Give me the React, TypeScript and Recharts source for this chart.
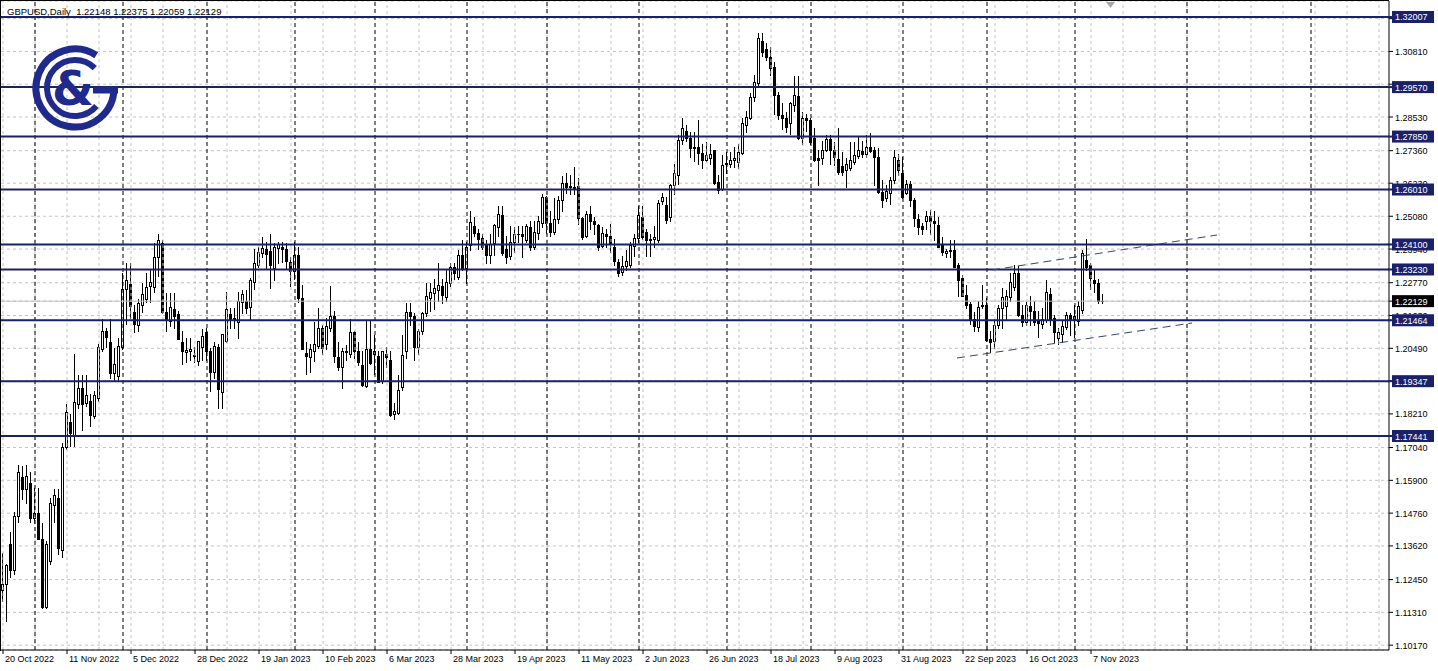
import { ComposedChart, Bar, XAxis, YAxis, CartesianGrid, ReferenceLine } from 'recharts'

// GBPUSD daily candles, 20 Oct 2022 .. 10 Nov 2023
const opens = [
  1.1210, 1.1230, 1.1370, 1.1280, 1.1465, 1.1600, 1.1560, 1.1580, 1.1460, 1.1475,
  1.1385, 1.1150, 1.1310, 1.1505, 1.1528, 1.1347, 1.1705, 1.1794, 1.1745, 1.1855,
  1.1910, 1.1860, 1.1865, 1.1815, 1.1875, 1.2048, 1.2108, 1.2070, 1.1962, 1.1953,
  1.2052, 1.2256, 1.2273, 1.2176, 1.2130, 1.2198, 1.2222, 1.2266, 1.2262, 1.2366,
  1.2415, 1.2175, 1.2145, 1.2185, 1.2168, 1.2072, 1.2035, 1.2040, 1.2022, 1.2006,
  1.2054, 1.2107, 1.2040, 1.1967, 1.2053, 1.1897, 1.2075, 1.2168, 1.2150, 1.2140,
  1.2210, 1.2213, 1.2193, 1.2279, 1.2338, 1.2380, 1.2393, 1.2387, 1.2327, 1.2396,
  1.2400, 1.2393, 1.2348, 1.2317, 1.2372, 1.2223, 1.2032, 1.2020, 1.2040, 1.2056,
  1.2120, 1.2063, 1.2121, 1.2160, 1.2018, 1.1983, 1.2035, 1.2028, 1.2104, 1.2040,
  1.1992, 1.1918, 1.2046, 1.2030, 1.2022, 1.1935, 1.2030, 1.2009, 1.1820, 1.1824,
  1.1914, 1.2040, 1.2175, 1.2160, 1.2055, 1.2110, 1.2170, 1.2225, 1.2240, 1.2250,
  1.2265, 1.2228, 1.2276, 1.2333, 1.2298, 1.2374, 1.2328, 1.2408, 1.2475, 1.2450,
  1.2431, 1.2408, 1.2373, 1.2415, 1.2471, 1.2512, 1.2395, 1.2370, 1.2420, 1.2445,
  1.2448, 1.2427, 1.2470, 1.2400, 1.2450, 1.2485, 1.2575, 1.2484, 1.2455, 1.2500,
  1.2563, 1.2622, 1.2612, 1.2610, 1.2613, 1.2502, 1.2440, 1.2515, 1.2490, 1.2478,
  1.2405, 1.2445, 1.2440, 1.2401, 1.2348, 1.2315, 1.2335, 1.2338, 1.2405, 1.2432,
  1.2505, 1.2455, 1.2425, 1.2430, 1.2425, 1.2560, 1.2547, 1.2505, 1.2617, 1.2650,
  1.2773, 1.2805, 1.2780, 1.2746, 1.2750, 1.2727, 1.2703, 1.2710, 1.2738, 1.2628,
  1.2602, 1.2690, 1.2690, 1.2705, 1.2696, 1.2728, 1.2826, 1.2850, 1.2923, 1.2972,
  1.3117, 1.3088, 1.3062, 1.3026, 1.2930, 1.2860, 1.2850, 1.2833, 1.2896, 1.2926,
  1.2780, 1.2850, 1.2843, 1.2780, 1.2710, 1.2710, 1.2739, 1.2775, 1.2740, 1.2708,
  1.2683, 1.2670, 1.2677, 1.2695, 1.2717, 1.2735, 1.2725, 1.2750, 1.2740, 1.2714,
  1.2594, 1.2570, 1.2590, 1.2634, 1.2705, 1.2658, 1.2590, 1.2620, 1.2564, 1.2500,
  1.2475, 1.2490, 1.2510, 1.2490, 1.2478, 1.2410, 1.2380, 1.2388, 1.2392, 1.2338,
  1.2294, 1.2234, 1.2203, 1.2150, 1.2123, 1.2195, 1.2200, 1.2081, 1.2073, 1.2129,
  1.2190, 1.2195, 1.2227, 1.2263, 1.2311, 1.2165, 1.2140, 1.2195, 1.2180, 1.2145,
  1.2135, 1.2147, 1.2238, 1.2154, 1.2085, 1.2100, 1.2122, 1.2165, 1.2150, 1.2144,
  1.2182, 1.2356, 1.2340, 1.2285, 1.2276, 1.22148,
]

const highs = [
  1.1337, 1.1300, 1.1410, 1.1480, 1.1645, 1.1640, 1.1645, 1.1620, 1.1565, 1.1565,
  1.1440, 1.1380, 1.1530, 1.1560, 1.1560, 1.1720, 1.1855, 1.1820, 1.2028, 1.1955,
  1.1957, 1.1955, 1.1890, 1.1900, 1.2065, 1.2150, 1.2120, 1.2150, 1.2050, 1.2085,
  1.2310, 1.2345, 1.2345, 1.2200, 1.2220, 1.2275, 1.2312, 1.2325, 1.2415, 1.2446,
  1.2425, 1.2240, 1.2240, 1.2242, 1.2180, 1.2110, 1.2085, 1.2085, 1.2055, 1.2075,
  1.2115, 1.2120, 1.2050, 1.2070, 1.2065, 1.2100, 1.2245, 1.2190, 1.2190, 1.2245,
  1.2250, 1.2250, 1.2295, 1.2395, 1.2400, 1.2435, 1.2420, 1.2447, 1.2415, 1.2420,
  1.2420, 1.2415, 1.2365, 1.2420, 1.2400, 1.2270, 1.2070, 1.2065, 1.2140, 1.2190,
  1.2130, 1.2155, 1.2264, 1.2180, 1.2070, 1.2050, 1.2060, 1.2150, 1.2110, 1.2070,
  1.2040, 1.2145, 1.2145, 1.2095, 1.2040, 1.2040, 1.2055, 1.2040, 1.1860, 1.1955,
  1.2095, 1.2205, 1.2205, 1.2170, 1.2115, 1.2175, 1.2275, 1.2275, 1.2290, 1.2345,
  1.2290, 1.2325, 1.2345, 1.2345, 1.2390, 1.2425, 1.2420, 1.2525, 1.2505, 1.2465,
  1.2445, 1.2425, 1.2445, 1.2480, 1.2545, 1.2545, 1.2440, 1.2475, 1.2470, 1.2475,
  1.2475, 1.2480, 1.2490, 1.2490, 1.2510, 1.2585, 1.2580, 1.2525, 1.2570, 1.2580,
  1.2648, 1.2660, 1.2650, 1.2680, 1.2640, 1.2505, 1.2525, 1.2545, 1.2505, 1.2480,
  1.2470, 1.2465, 1.2480, 1.2430, 1.2360, 1.2370, 1.2390, 1.2420, 1.2445, 1.2545,
  1.2545, 1.2465, 1.2445, 1.2475, 1.2565, 1.2590, 1.2575, 1.2620, 1.2690, 1.2790,
  1.2848, 1.2825, 1.2800, 1.2800, 1.2843, 1.2760, 1.2765, 1.2760, 1.2740, 1.2650,
  1.2720, 1.2730, 1.2730, 1.2750, 1.2760, 1.2850, 1.2875, 1.2935, 1.3000, 1.3145,
  1.3145, 1.3110, 1.3095, 1.3045, 1.2940, 1.2900, 1.2870, 1.2905, 1.2995, 1.2995,
  1.2870, 1.2865, 1.2850, 1.2815, 1.2740, 1.2770, 1.2790, 1.2790, 1.2765, 1.2815,
  1.2730, 1.2710, 1.2765, 1.2765, 1.2784, 1.2770, 1.2790, 1.2796, 1.2750, 1.2745,
  1.2635, 1.2615, 1.2645, 1.2738, 1.2725, 1.2715, 1.2635, 1.2630, 1.2570, 1.2515,
  1.2485, 1.2525, 1.2530, 1.2525, 1.2505, 1.2435, 1.2395, 1.2425, 1.2425, 1.2345,
  1.2305, 1.2270, 1.2210, 1.2175, 1.2215, 1.2270, 1.2225, 1.2110, 1.2150, 1.2200,
  1.2260, 1.2250, 1.2310, 1.2337, 1.2335, 1.2200, 1.2210, 1.2230, 1.2215, 1.2180,
  1.2190, 1.2285, 1.2260, 1.2165, 1.2120, 1.2145, 1.2175, 1.2170, 1.2200, 1.2215,
  1.2390, 1.2428, 1.2345, 1.2321, 1.2290, 1.22375,
]

const lows = [
  1.1170, 1.1100, 1.1255, 1.1265, 1.1445, 1.1525, 1.1510, 1.1445, 1.1440, 1.1385,
  1.1145, 1.1145, 1.1300, 1.1445, 1.1335, 1.1325, 1.1700, 1.1710, 1.1710, 1.1840,
  1.1765, 1.1850, 1.1780, 1.1805, 1.1865, 1.2040, 1.2055, 1.1945, 1.1935, 1.1935,
  1.2045, 1.2135, 1.2155, 1.2105, 1.2110, 1.2175, 1.2210, 1.2210, 1.2245, 1.2300,
  1.2170, 1.2110, 1.2125, 1.2120, 1.2080, 1.1995, 1.2000, 1.2010, 1.2000, 1.1990,
  1.2010, 1.2010, 1.1900, 1.1945, 1.1842, 1.1840, 1.2070, 1.2120, 1.2120, 1.2085,
  1.2170, 1.2170, 1.2150, 1.2255, 1.2330, 1.2365, 1.2325, 1.2260, 1.2285, 1.2345,
  1.2350, 1.2325, 1.2265, 1.2290, 1.2210, 1.2045, 1.1960, 1.1965, 1.2005, 1.2050,
  1.2030, 1.2045, 1.2110, 1.2000, 1.1975, 1.1911, 1.2010, 1.2020, 1.2015, 1.1990,
  1.1918, 1.1915, 1.1995, 1.1960, 1.1932, 1.1930, 1.1985, 1.1815, 1.1803, 1.1820,
  1.1905, 1.2015, 1.2130, 1.2010, 1.2030, 1.2100, 1.2160, 1.2180, 1.2185, 1.2215,
  1.2205, 1.2215, 1.2265, 1.2290, 1.2290, 1.2320, 1.2275, 1.2390, 1.2440, 1.2395,
  1.2395, 1.2345, 1.2345, 1.2375, 1.2440, 1.2375, 1.2345, 1.2360, 1.2385, 1.2420,
  1.2365, 1.2420, 1.2390, 1.2395, 1.2430, 1.2470, 1.2450, 1.2440, 1.2445, 1.2485,
  1.2525, 1.2590, 1.2585, 1.2585, 1.2480, 1.2430, 1.2435, 1.2465, 1.2445, 1.2390,
  1.2400, 1.2400, 1.2385, 1.2340, 1.2300, 1.2305, 1.2320, 1.2330, 1.2370, 1.2420,
  1.2430, 1.2370, 1.2370, 1.2400, 1.2420, 1.2550, 1.2485, 1.2490, 1.2585, 1.2620,
  1.2760, 1.2770, 1.2715, 1.2700, 1.2690, 1.2675, 1.2700, 1.2690, 1.2620, 1.2590,
  1.2600, 1.2660, 1.2680, 1.2680, 1.2675, 1.2725, 1.2800, 1.2845, 1.2910, 1.2965,
  1.3065, 1.3050, 1.3000, 1.2865, 1.2845, 1.2810, 1.2800, 1.2795, 1.2875, 1.2775,
  1.2760, 1.2805, 1.2760, 1.2700, 1.2617, 1.2690, 1.2735, 1.2690, 1.2685, 1.2655,
  1.2650, 1.2610, 1.2670, 1.2690, 1.2710, 1.2715, 1.2715, 1.2730, 1.2615, 1.2590,
  1.2540, 1.2560, 1.2550, 1.2625, 1.2650, 1.2570, 1.2585, 1.2545, 1.2475, 1.2445,
  1.2445, 1.2465, 1.2445, 1.2425, 1.2400, 1.2375, 1.2365, 1.2365, 1.2330, 1.2230,
  1.2230, 1.2190, 1.2135, 1.2110, 1.2110, 1.2190, 1.2075, 1.2037, 1.2050, 1.2120,
  1.2120, 1.2150, 1.2215, 1.2250, 1.2160, 1.2125, 1.2130, 1.2130, 1.2130, 1.2090,
  1.2120, 1.2140, 1.2130, 1.2070, 1.2065, 1.2070, 1.2115, 1.2095, 1.2090, 1.2130,
  1.2170, 1.2320, 1.2255, 1.2245, 1.2205, 1.22059,
]

const closes = [
  1.1230, 1.1295, 1.1280, 1.1465, 1.1620, 1.1560, 1.1605, 1.1460, 1.1475, 1.1385,
  1.1150, 1.1370, 1.1510, 1.1538, 1.1355, 1.1705, 1.1828, 1.1756, 1.1862, 1.1910,
  1.1855, 1.1885, 1.1818, 1.1885, 1.2052, 1.2110, 1.2088, 1.1962, 1.1995, 1.2058,
  1.2256, 1.2288, 1.2195, 1.2134, 1.2208, 1.2238, 1.2262, 1.2280, 1.2366, 1.2425,
  1.2175, 1.2150, 1.2192, 1.2160, 1.2080, 1.2040, 1.2044, 1.2045, 1.2024, 1.2075,
  1.2093, 1.2040, 1.1967, 1.2057, 1.1907, 1.2098, 1.2185, 1.2150, 1.2155, 1.2213,
  1.2238, 1.2190, 1.2286, 1.2345, 1.2383, 1.2397, 1.2376, 1.2340, 1.2400, 1.2410,
  1.2395, 1.2352, 1.2317, 1.2372, 1.2223, 1.2046, 1.2022, 1.2045, 1.2063, 1.2118,
  1.2050, 1.2125, 1.2160, 1.2021, 1.1983, 1.2039, 1.2041, 1.2104, 1.2040, 1.2000,
  1.1920, 1.2046, 1.1997, 1.2040, 1.1932, 1.2039, 1.2020, 1.1817, 1.1830, 1.1904,
  1.2025, 1.2175, 1.2160, 1.2055, 1.2110, 1.2170, 1.2230, 1.2245, 1.2260, 1.2270,
  1.2235, 1.2281, 1.2333, 1.2310, 1.2374, 1.2328, 1.2402, 1.2488, 1.2450, 1.2430,
  1.2402, 1.2373, 1.2410, 1.2478, 1.2515, 1.2380, 1.2367, 1.2420, 1.2445, 1.2448,
  1.2440, 1.2475, 1.2400, 1.2455, 1.2490, 1.2575, 1.2484, 1.2455, 1.2500, 1.2565,
  1.2622, 1.2610, 1.2608, 1.2603, 1.2502, 1.2436, 1.2515, 1.2490, 1.2480, 1.2401,
  1.2450, 1.2440, 1.2415, 1.2354, 1.2310, 1.2335, 1.2352, 1.2408, 1.2432, 1.2512,
  1.2435, 1.2425, 1.2430, 1.2435, 1.2554, 1.2575, 1.2495, 1.2617, 1.2658, 1.2773,
  1.2815, 1.2780, 1.2746, 1.2750, 1.2727, 1.2703, 1.2722, 1.2725, 1.2625, 1.2600,
  1.2686, 1.2693, 1.2705, 1.2710, 1.2731, 1.2832, 1.2853, 1.2923, 1.2975, 1.3128,
  1.3079, 1.3061, 1.3023, 1.2930, 1.2860, 1.2850, 1.2820, 1.2901, 1.2930, 1.2780,
  1.2850, 1.2843, 1.2767, 1.2704, 1.2705, 1.2740, 1.2777, 1.2740, 1.2715, 1.2663,
  1.2662, 1.2690, 1.2702, 1.2720, 1.2740, 1.2725, 1.2750, 1.2735, 1.2713, 1.2594,
  1.2566, 1.2595, 1.2634, 1.2714, 1.2670, 1.2574, 1.2620, 1.2565, 1.2502, 1.2470,
  1.2465, 1.2510, 1.2490, 1.2485, 1.2401, 1.2385, 1.2388, 1.2392, 1.2332, 1.2286,
  1.2232, 1.2199, 1.2150, 1.2126, 1.2193, 1.2200, 1.2078, 1.2070, 1.2129, 1.2190,
  1.2227, 1.2230, 1.2279, 1.2311, 1.2165, 1.2140, 1.2200, 1.2180, 1.2140, 1.2138,
  1.2150, 1.2245, 1.2147, 1.2106, 1.2105, 1.2125, 1.2165, 1.2150, 1.2160, 1.2195,
  1.2380, 1.2332, 1.2295, 1.2275, 1.2213, 1.22129,
]

// bottom axis labels (bar index -> date)
const labelBars = [0, 16, 32, 48, 64, 80, 96, 112, 128, 144, 160, 176, 192, 208, 224, 240, 256, 272]
const labelDates = [
  '20 Oct 2022', '11 Nov 2022', '5 Dec 2022', '28 Dec 2022', '19 Jan 2023', '10 Feb 2023',
  '6 Mar 2023', '28 Mar 2023', '19 Apr 2023', '11 May 2023', '2 Jun 2023', '26 Jun 2023',
  '18 Jul 2023', '9 Aug 2023', '31 Aug 2023', '22 Sep 2023', '16 Oct 2023', '7 Nov 2023',
]

// first bar of each month (period separators)
const monthStarts = [8, 30, 51, 73, 93, 116, 136, 159, 181, 202, 225, 246, 268, 296, 327]

const priceTicks = [
  1.1017, 1.1131, 1.1245, 1.1362, 1.1476, 1.159, 1.1704, 1.1821, 1.1935, 1.2049,
  1.2163, 1.2277, 1.2394, 1.2508, 1.2623, 1.2736, 1.2853, 1.2967, 1.3081, 1.3195,
]

const levels = [1.32007, 1.2957, 1.2785, 1.2601, 1.241, 1.2323, 1.21464, 1.19347, 1.17441]
const lastPrice = 1.22129

const channelUpper = [{ x: 247.25, y: 1.23212 }, { x: 303.5, y: 1.24429 }]
const channelLower = [{ x: 238.5, y: 1.20153 }, { x: 297.25, y: 1.21369 }]

const rows = closes.map((c, i) => ({
  i,
  o: opens[i],
  h: highs[i],
  l: lows[i],
  c,
  range: [lows[i], highs[i]],
}))

// plain ticks first, then price tags so the tags are painted over them
const axisTicks = [...priceTicks, lastPrice, ...levels]

const gridBars = Array.from({ length: 44 }, (_, k) => k * 8)

const NAVY = '#1a2169'
const FONT = '"Liberation Sans", Arial, sans-serif'

function Candle(props: any) {
  const { x, y, width, height, payload } = props
  if (!payload || height == null) return null
  const { o, h, l, c } = payload
  const top = Math.min(y, y + height)
  const bot = Math.max(y, y + height)
  const span = h - l || 1e-9
  const py = (v: number) => top + ((h - v) / span) * (bot - top)
  const cx = Math.floor(x + width / 2)
  const b1 = Math.round(Math.min(py(o), py(c)))
  const b2 = Math.round(Math.max(py(o), py(c)))
  const bull = c >= o
  return (
    <g>
      <line x1={cx + 0.5} x2={cx + 0.5} y1={Math.round(top)} y2={Math.round(bot) + 1} stroke="#000" strokeWidth={1} />
      {b2 - b1 < 1 ? (
        <line x1={cx - 1} x2={cx + 2} y1={b1 + 0.5} y2={b1 + 0.5} stroke="#000" strokeWidth={1} />
      ) : (
        <rect x={cx - 0.5} y={b1 + 0.5} width={2} height={b2 - b1} fill={bull ? '#fff' : '#000'} stroke="#000" strokeWidth={1} />
      )}
    </g>
  )
}

function PriceTick(props: any) {
  const { x, y, payload } = props
  const v = payload.value
  const text = v.toFixed(5)
  const isLevel = levels.includes(v)
  if (isLevel || v === lastPrice) {
    const fill = isLevel ? NAVY : '#000'
    return (
      <g>
        {isLevel && <line x1={x - 7} x2={x - 2} y1={y} y2={y} stroke={fill} strokeWidth={2} />}
        <rect x={x - 3} y={y - 6} width={42} height={12} fill={fill} />
        <text x={x} y={y + 3.5} fill="#fff" fontSize={9} fontFamily={FONT}>{text}</text>
      </g>
    )
  }
  // a grid label sitting right under a price tag is fully hidden by it
  if (levels.some(l => Math.abs(l - v) < 0.0012)) return null
  return (
    <text x={x} y={y + 3.5} fill="#000" fontSize={9} fontFamily={FONT}>{text}</text>
  )
}

function DateTick(props: any) {
  const { x, y, payload } = props
  const k = labelBars.indexOf(payload.value)
  return (
    <text x={x + 2} y={y + 8} fontSize={9} fill="#000" fontFamily={FONT} textAnchor="start">
      {labelDates[k]}
    </text>
  )
}

function Logo() {
  // brand mark drawn in the upper-left corner of the chart
  const cx = 75
  const cy = 88
  const pt = (r: number, deg: number) => {
    const a = (deg * Math.PI) / 180
    return `${(cx + r * Math.cos(a)).toFixed(2)} ${(cy + r * Math.sin(a)).toFixed(2)}`
  }
  return (
    <g fill="none" stroke="#1f2a8c">
      <path d={`M ${pt(39, 0)} A 39 39 0 1 1 ${pt(39, -57)}`} strokeWidth={7} />
      <path d={`M ${pt(28, 40)} A 28 28 0 1 1 ${pt(28, -45)}`} strokeWidth={6} />
      <line x1={cx + 18} x2={cx + 43} y1={cy + 2} y2={cy + 2} strokeWidth={7} />
      <text x={cx - 2} y={cy + 17} fill="#1f2a8c" stroke="none" fontSize={48} fontWeight={700} fontFamily='"DejaVu Sans", sans-serif' textAnchor="middle">&amp;</text>
    </g>
  )
}

export default function App() {
  return (
    <div style={{ position: 'absolute', left: 0, top: 0, width: 1438, height: 671, background: '#fff', fontFamily: FONT }}>
      <ComposedChart width={1438} height={671} data={rows} margin={{ top: 1, right: 0, bottom: 0, left: 1 }}>
        <CartesianGrid vertical={false} stroke="#c4c4c4" strokeDasharray="3 3" />
        <XAxis
          type="number"
          dataKey="i"
          domain={[-0.5, 346.5]}
          allowDataOverflow
          ticks={labelBars}
          interval={0}
          height={21}
          tickSize={4}
          tickMargin={0}
          axisLine={{ stroke: '#000' }}
          tickLine={{ stroke: '#000' }}
          tick={<DateTick />}
        />
        <YAxis
          orientation="right"
          type="number"
          domain={[1.10002, 1.32563]}
          allowDataOverflow
          ticks={axisTicks}
          interval={0}
          width={49}
          tickSize={4}
          tickMargin={2}
          axisLine={{ stroke: '#000' }}
          tickLine={{ stroke: '#000' }}
          tick={<PriceTick />}
        />
        {gridBars.map(b => (
          <ReferenceLine key={'g' + b} x={b} stroke="#c4c4c4" strokeDasharray="3 3" />
        ))}
        {monthStarts.map(b => (
          <ReferenceLine key={'m' + b} x={b} stroke="#000" strokeDasharray="4 3" />
        ))}
        <ReferenceLine y={lastPrice} stroke="#c0c0c0" />
        <Bar dataKey="range" barSize={3} isAnimationActive={false} shape={(p: any) => <Candle {...p} />} />
        {levels.map(v => (
          <ReferenceLine key={'l' + v} y={v} stroke={NAVY} strokeWidth={2} />
        ))}
        <ReferenceLine segment={channelUpper} stroke="#34466e" strokeDasharray="8 5" ifOverflow="visible" />
        <ReferenceLine segment={channelLower} stroke="#34466e" strokeDasharray="8 5" ifOverflow="visible" />
      </ComposedChart>
      <svg width={1438} height={671} style={{ position: 'absolute', left: 0, top: 0, pointerEvents: 'none' }}>
        <line x1={0.5} x2={0.5} y1={0} y2={651} stroke="#000" />
        <line x1={0} x2={1389} y1={0.5} y2={0.5} stroke="#000" />
        <polygon points="1106,2 1115,2 1110.5,8" fill="#a8a8a8" />
        <text x={7} y={15} fontSize={9.5} fill="#000" fontFamily={FONT} xmlSpace="preserve">GBPUSD,Daily  1.22148 1.22375 1.22059 1.22129</text>
        <Logo />
      </svg>
    </div>
  )
}
